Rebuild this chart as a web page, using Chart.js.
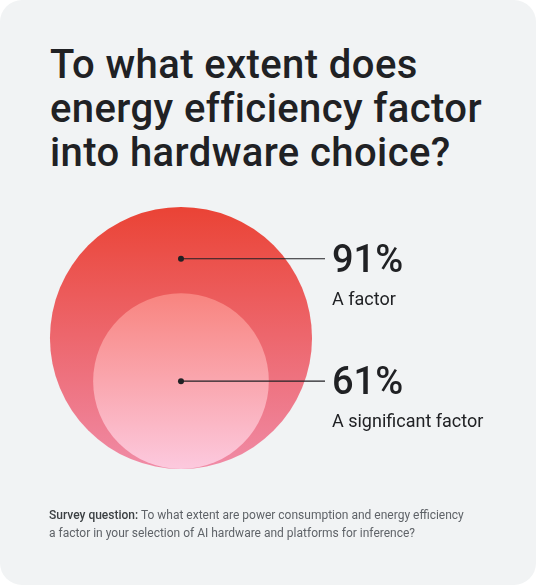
<!DOCTYPE html>
<html>
<head>
<meta charset="utf-8">
<script src="https://cdn.jsdelivr.net/npm/chart.js@4"></script>
<style>
  html, body { margin: 0; padding: 0; background: #ffffff; }
  #card {
    position: absolute; left: 0; top: 0; width: 536px; height: 585px;
    background: #f1f3f4; border-radius: 22px; overflow: hidden;
    font-family: Roboto, "Noto Sans", sans-serif; color: #202124;
  }
  #title {
    position: absolute; left: 50px; top: 43px; margin: 0;
    font-size: 40px; line-height: 44px; font-weight: 500; letter-spacing: 0.4px;
  }
  #note {
    position: absolute; left: 49px; top: 507px; width: 418px; margin: 0;
    font-size: 12px; line-height: 17.5px; color: #5f6368;
  }
  #note b { font-weight: 500; color: #3c4043; }
  #wrap { position: absolute; left: 0; top: 0; width: 536px; height: 585px; }
</style>
</head>
<body>
<div id="card">
  <h1 id="title">To what extent does<br>energy efficiency factor<br>into hardware choice?</h1>
  <div id="wrap"><canvas id="myChart"></canvas></div>
  <p id="note"><b>Survey question:</b> To what extent are power consumption and energy efficiency a factor in your selection of AI hardware and platforms for inference?</p>
</div>
<script>
// survey results
const categories = ["A factor", "A significant factor"];
const shares = [91, 61];
const valueLabels = ["91%", "61%"];

const fills = [
  ["#ea4335", "#f08ba6"],
  ["#f8847f", "#fcc9de"]
];

const maxShare = Math.max.apply(null, shares);

// radius in pixels = share measured on the y scale
function radiusOf(chart, v) {
  var y = chart.scales.y;
  if (!y || !chart.chartArea) return 0;
  return y.getPixelForValue(0) - y.getPixelForValue(v);
}

function circleFill(i) {
  return function(ctx) {
    var chart = ctx.chart;
    if (!chart.chartArea) return fills[i][0];
    var y = chart.scales.y;
    var top = y.getPixelForValue(shares[i] * 2);
    var bottom = y.getPixelForValue(0);
    var g = chart.ctx.createLinearGradient(0, top, 0, bottom);
    g.addColorStop(0, fills[i][0]);
    g.addColorStop(1, fills[i][1]);
    return g;
  };
}

// circles sit on a common baseline, so center height = radius
var datasets = shares.map(function(v, i) {
  return {
    label: categories[i],
    data: [{ x: maxShare, y: v }],
    showLine: false,
    pointBackgroundColor: circleFill(i),
    pointBorderWidth: 0,
    order: shares.length - i,
    clip: false,
    pointRadius: function(ctx) { return radiusOf(ctx.chart, shares[i]); },
    pointHoverRadius: function(ctx) { return radiusOf(ctx.chart, shares[i]); }
  };
});

// where each callout leaves its circle (data units on y)
const calloutAt = [146, shares[1]];

const callouts = {
  id: "callouts",
  afterDatasetsDraw: function(chart) {
    var c = chart.ctx;
    var xs = chart.scales.x, ys = chart.scales.y;
    var x0 = xs.getPixelForValue(maxShare);
    var lineEnd = 325, textX = 332;
    c.save();
    shares.forEach(function(v, i) {
      var yy = ys.getPixelForValue(calloutAt[i]);
      c.strokeStyle = "#202124";
      c.lineWidth = 1.2;
      c.beginPath();
      c.moveTo(x0, yy);
      c.lineTo(lineEnd, yy);
      c.stroke();
      c.fillStyle = "#202124";
      c.beginPath();
      c.arc(x0, yy, 3, 0, Math.PI * 2);
      c.fill();
      c.textBaseline = "alphabetic";
      c.textAlign = "left";
      c.font = "500 38px Roboto";
      c.fillText(valueLabels[i], textX, yy + 13);
      c.font = "400 18px Roboto";
      c.fillText(categories[i], textX, yy + 46);
    });
    c.restore();
  }
};

new Chart("myChart", {
  type: "scatter",
  data: { datasets: datasets },
  options: {
    responsive: true,
    maintainAspectRatio: false,
    animation: false,
    layout: { padding: { top: 181, bottom: 116, left: 50, right: 11 } },
    scales: {
      x: { display: false, min: 0, max: 330 },
      y: { display: false, min: 0, max: 200 }
    },
    plugins: {
      legend: { display: false },
      tooltip: { enabled: false }
    }
  },
  plugins: [callouts]
});
</script>
</body>
</html>
